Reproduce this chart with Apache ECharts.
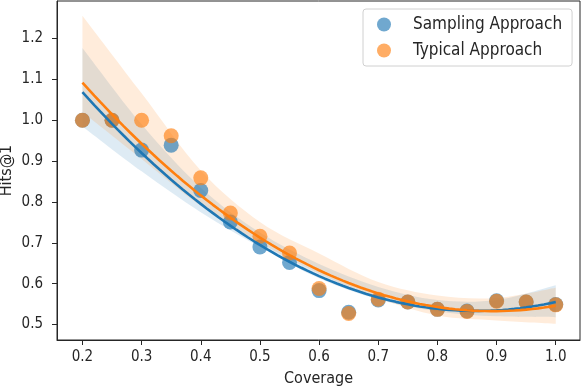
<!DOCTYPE html>
<html>
<head>
<meta charset="utf-8">
<script src="https://cdn.jsdelivr.net/npm/echarts@6/dist/echarts.min.js"></script>
<style>
  html, body { margin: 0; padding: 0; background: #fff; }
  #chart { width: 582px; height: 388px; }
</style>
</head>
<body>
<div id="chart"></div>
<script>
  // scatter data
  const coverage = [0.2, 0.25, 0.3, 0.35, 0.4, 0.45, 0.5, 0.55, 0.6, 0.65, 0.7, 0.75, 0.8, 0.85, 0.9, 0.95, 1.0]
  const sampling = [1.0, 1.0, 0.927, 0.939, 0.828, 0.751, 0.690, 0.652, 0.583, 0.530, 0.560, 0.555, 0.537, 0.533, 0.558, 0.555, 0.549]
  const typical = [1.0, 1.0, 1.0, 0.962, 0.859, 0.773, 0.716, 0.675, 0.588, 0.527, 0.562, 0.555, 0.537, 0.532, 0.557, 0.555, 0.548]

  // confidence band edges, read at these x positions
  const bandX = [0.2, 0.3, 0.4, 0.5, 0.6, 0.7, 0.8, 0.9, 1.0]
  const samplingUpper = [1.177, 0.99, 0.835, 0.725, 0.648, 0.592, 0.56, 0.56, 0.596]
  const samplingLower = [0.985, 0.875, 0.775, 0.69, 0.613, 0.561, 0.532, 0.52, 0.518]
  const typicalUpper = [1.256, 1.066, 0.877, 0.751, 0.674, 0.604, 0.571, 0.565, 0.59]
  const typicalLower = [1.02, 0.905, 0.79, 0.70, 0.625, 0.565, 0.522, 0.51, 0.502]

  const xTicks = [0.2, 0.3, 0.4, 0.5, 0.6, 0.7, 0.8, 0.9, 1.0]
  const yTicks = [0.5, 0.6, 0.7, 0.8, 0.9, 1.0, 1.1, 1.2]

  const BLUE = '#1f77b4'
  const ORANGE = '#ff7f0e'
  const FONT = "'DejaVu Sans Condensed', 'DejaVu Sans', sans-serif"
  const INK = '#262626'

  // order-2 least squares fit, like seaborn regplot(order=2)
  function quadFit(xs, ys) {
    let s = [0, 0, 0, 0, 0], t = [0, 0, 0]
    xs.forEach((x, i) => {
      let p = 1
      for (let k = 0; k < 5; k++) { s[k] += p; p *= x }
      t[0] += ys[i]; t[1] += ys[i] * x; t[2] += ys[i] * x * x
    })
    const m = [[s[0], s[1], s[2], t[0]], [s[1], s[2], s[3], t[1]], [s[2], s[3], s[4], t[2]]]
    for (let c = 0; c < 3; c++) {
      for (let r = c + 1; r < 3; r++) {
        const f = m[r][c] / m[c][c]
        for (let k = c; k < 4; k++) m[r][k] -= f * m[c][k]
      }
    }
    const b = [0, 0, 0]
    for (let r = 2; r >= 0; r--) {
      let v = m[r][3]
      for (let k = r + 1; k < 3; k++) v -= m[r][k] * b[k]
      b[r] = v / m[r][r]
    }
    return x => b[0] + b[1] * x + b[2] * x * x
  }

  function fitLine(ys) {
    const f = quadFit(coverage, ys)
    const out = []
    for (let i = 0; i <= 80; i++) {
      const x = 0.2 + i * 0.01
      out.push([x, f(x)])
    }
    return out
  }

  // catmull-rom through pixel points -> svg path segments
  function curveThrough(pts, start) {
    let d = start ? 'M' + pts[0][0] + ' ' + pts[0][1] : 'L' + pts[0][0] + ' ' + pts[0][1]
    for (let i = 0; i < pts.length - 1; i++) {
      const p0 = pts[Math.max(i - 1, 0)], p1 = pts[i], p2 = pts[i + 1], p3 = pts[Math.min(i + 2, pts.length - 1)]
      const c1 = [p1[0] + (p2[0] - p0[0]) / 6, p1[1] + (p2[1] - p0[1]) / 6]
      const c2 = [p2[0] - (p3[0] - p1[0]) / 6, p2[1] - (p3[1] - p1[1]) / 6]
      d += ' C' + c1[0] + ' ' + c1[1] + ' ' + c2[0] + ' ' + c2[1] + ' ' + p2[0] + ' ' + p2[1]
    }
    return d
  }

  function bandSeries(name, lower, upper, color) {
    return {
      name: name, type: 'custom', silent: true,
      encode: {x: 0, y: [1, 2]},
      data: bandX.map((x, i) => [x, lower[i], upper[i]]),
      renderItem: (params, api) => {
        if (params.dataIndex !== 0) return null
        const up = bandX.map((x, i) => api.coord([x, upper[i]]))
        const lo = bandX.map((x, i) => api.coord([x, lower[i]])).reverse()
        const d = curveThrough(up, true) + ' ' + curveThrough(lo, false) + ' Z'
        return {
          type: 'path',
          shape: {pathData: d},
          style: {fill: color, opacity: 0.15}
        }
      }
    }
  }

  function scatterSeries(name, ys, rgba) {
    return {
      name: name, type: 'scatter', symbolSize: 15,
      itemStyle: {color: rgba},
      data: coverage.map((x, i) => [x, ys[i]])
    }
  }

  function lineSeries(name, ys, color) {
    return {
      name: name, type: 'line', symbol: 'none', silent: true,
      lineStyle: {color: color, width: 2.6},
      data: fitLine(ys)
    }
  }

  const chart = echarts.init(document.getElementById('chart'), null, {renderer: 'canvas'})

  chart.setOption({
    animation: false,
    textStyle: {fontFamily: FONT},
    grid: {
      left: 57, right: 2, top: 1, bottom: 48, containLabel: false, outerBoundsMode: 'none',
      show: true, borderColor: INK, borderWidth: 1, backgroundColor: 'transparent'
    },
    legend: {
      data: [{name: 'Sampling Approach', icon: 'circle'}, {name: 'Typical Approach', icon: 'circle'}],
      orient: 'vertical', left: 363, top: 9,
      padding: [7, 10, 7, 14], itemGap: 9, itemWidth: 14, itemHeight: 14,
      borderColor: '#d0d0d0', borderWidth: 1, borderRadius: 3,
      textStyle: {fontFamily: FONT, fontSize: 17, color: INK, padding: [0, 0, 0, 17]}
    },
    xAxis: {
      type: 'value', min: 0.157, max: 1.041,
      name: 'Coverage', nameLocation: 'middle', nameGap: 31,
      nameTextStyle: {fontFamily: FONT, fontSize: 16, color: INK},
      axisLine: {lineStyle: {color: INK, width: 1}},
      axisTick: {customValues: xTicks, length: 5, lineStyle: {color: INK}},
      axisLabel: {customValues: xTicks, margin: 10, fontFamily: FONT, fontSize: 15, color: INK, formatter: v => v.toFixed(1)},
      splitLine: {show: false}
    },
    yAxis: {
      type: 'value', min: 0.462, max: 1.292,
      name: 'Hits@1', nameLocation: 'middle', nameGap: 42, nameMoveOverlap: false,
      nameTextStyle: {fontFamily: FONT, fontSize: 16, color: INK},
      axisLine: {show: true, lineStyle: {color: INK, width: 1}},
      axisTick: {show: true, customValues: yTicks, length: 5, lineStyle: {color: INK}},
      axisLabel: {customValues: yTicks, margin: 14, fontFamily: FONT, fontSize: 15, color: INK, formatter: v => v.toFixed(1)},
      splitLine: {show: false}
    },
    series: [
      scatterSeries('Sampling Approach', sampling, 'rgba(31,119,180,0.8)'),
      lineSeries('Sampling fit', sampling, BLUE),
      bandSeries('Sampling band', samplingLower, samplingUpper, BLUE),
      scatterSeries('Typical Approach', typical, 'rgba(255,127,14,0.8)'),
      lineSeries('Typical fit', typical, ORANGE),
      bandSeries('Typical band', typicalLower, typicalUpper, ORANGE)
    ]
  })
</script>
</body>
</html>
